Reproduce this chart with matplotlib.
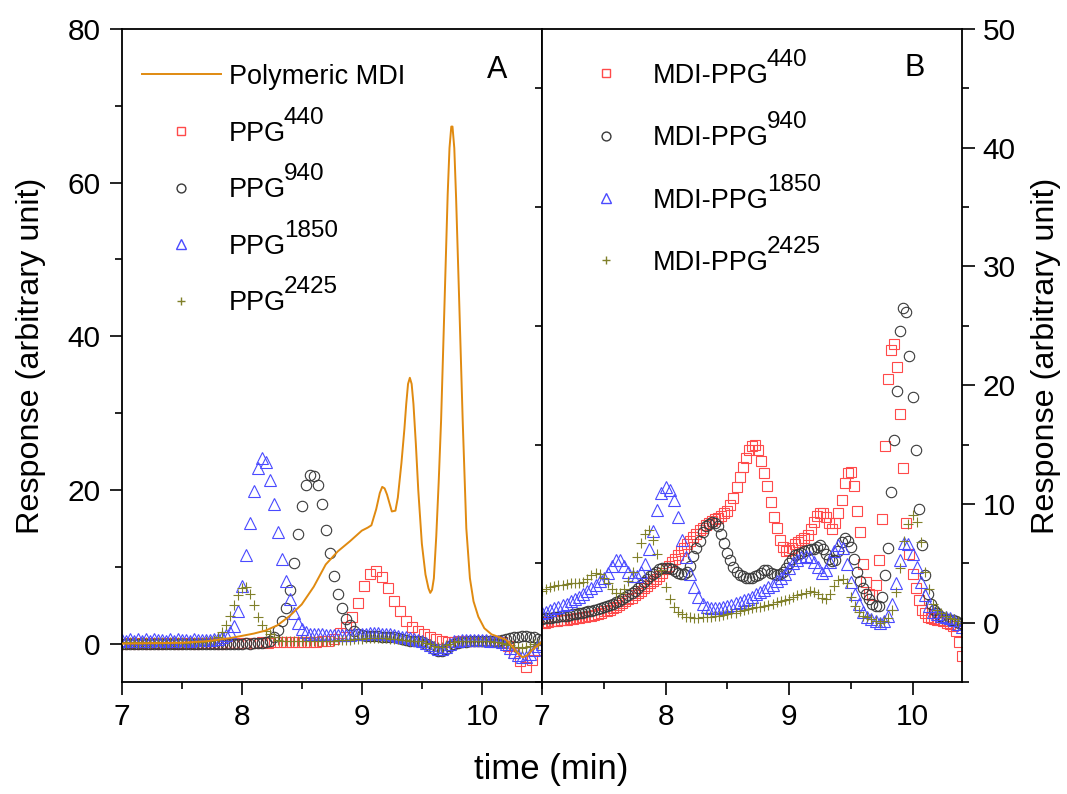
import numpy as np
import matplotlib
matplotlib.use("Agg")
import matplotlib.pyplot as plt
from matplotlib.ticker import MultipleLocator
from matplotlib.transforms import IdentityTransform

plt.rcParams['font.family'] = ['Liberation Sans', 'DejaVu Sans']

# ---- Panel A: polyols (PPG) and polymeric MDI
# polymeric MDI trace (time, response)
pmdi_t = [7.0, 7.5, 7.7, 7.8, 7.9, 8.0, 8.1, 8.2, 8.3, 8.4, 8.5, 8.6, 8.7, 8.8, 8.9,
          9.0, 9.05, 9.08, 9.12, 9.15, 9.17, 9.19, 9.21, 9.25, 9.28, 9.30, 9.33, 9.355,
          9.37, 9.385, 9.40, 9.415, 9.43, 9.45, 9.47, 9.50, 9.53, 9.555, 9.57, 9.585,
          9.60, 9.62, 9.64, 9.66, 9.69, 9.715, 9.73, 9.745, 9.755, 9.77, 9.785, 9.81,
          9.84, 9.87, 9.90, 9.93, 9.97, 10.02, 10.08, 10.15, 10.20, 10.25, 10.30,
          10.34, 10.38, 10.42, 10.47, 10.5]
pmdi_y = [0.0, 0.1, 0.3, 0.5, 0.7, 1.0, 1.3, 1.7, 2.4, 3.6, 5.1, 7.4, 10.3, 12.0, 13.3,
          14.7, 15.1, 15.4, 17.5, 19.6, 20.4, 20.2, 19.4, 17.2, 17.3, 19.0, 23.5, 28.0,
          31.2, 33.8, 34.6, 33.8, 31.2, 26.0, 20.0, 13.0, 9.0, 7.2, 6.6, 7.0,
          8.5, 14.0, 21.0, 29.0, 45.0, 58.5, 64.5, 67.3, 67.3, 64.5, 58.0, 45.0,
          29.0, 15.0, 8.5, 5.5, 3.5, 2.0, 1.2, 0.8, 0.5, -0.3, -1.3,
          -1.8, -1.5, -0.8, -0.2, 0.3]

# PPG440, sampled every 0.05 min from 7.02
ppg440 = [0.0, 0.1, 0.0, 0.1, 0.0, 0.1, 0.0, 0.1, 0.1, 0.0, 0.1, 0.1, 0.0, 0.1, 0.1,
          0.1, 0.0, 0.1, 0.1, 0.1, 0.1, 0.1, 0.1, 0.2, 0.1, 0.2,
          0.2, 0.2, 0.2, 0.2, 0.2, 0.2, 0.2, 0.3, 0.3, 0.6, 1.4, 2.2, 3.4, 5.3, 7.5,
          9.1, 9.5, 8.7, 7.2, 5.6, 4.2, 3.0, 2.1, 1.6, 1.2, 0.9, 0.6, 0.3, 0.2, 0.2,
          0.3, 0.3, 0.4, 0.4, 0.4, 0.4, 0.3, 0.2, -0.3, -1.2, -2.3, -3.0, -2.2, -0.8]

# PPG940 / PPG1850 / PPG2425, sampled every 2 s from 7.0 min
ppg940 = [0.0, -0.1, 0.0, -0.1, 0.0, -0.1, 0.0, 0.0, -0.1, 0.0, -0.1, 0.0, 0.0, -0.1,
          0.0, -0.1, 0.0, 0.0, -0.1, 0.0, 0.0, -0.1, 0.0, 0.0, 0.0, -0.1, 0.0, 0.0,
          0.0, 0.0, 0.0, 0.1, 0.0, 0.1, 0.1, 0.1, 0.2, 0.4,
          0.8, 1.8, 2.9, 4.6, 7.0, 10.5, 14.3, 17.9, 20.6, 21.9, 21.8, 20.6, 18.2,
          14.8, 11.8, 8.8, 6.5, 4.6, 3.2, 2.4, 1.7, 1.3, 1.1, 1.0, 1.0, 1.0, 1.0,
          0.9, 0.9, 0.8, 0.8, 0.7, 0.6, 0.5, 0.4, 0.3, 0.3, 0.2, 0.0, -0.3, -0.7,
          -1.0, -1.0, -0.7, -0.3, 0.0, 0.1,
          0.2, 0.2, 0.3, 0.3, 0.3, 0.3, 0.3, 0.3, 0.4, 0.4, 0.5, 0.6, 0.7, 0.8, 0.9,
          1.0, 1.0, 0.9, 0.8, 0.6, 0.5]
ppg1850 = [0.5, 0.4, 0.6, 0.4, 0.6, 0.4, 0.6, 0.4, 0.6, 0.5, 0.5, 0.4, 0.6, 0.4, 0.6,
           0.5, 0.5, 0.4, 0.6, 0.5, 0.5, 0.5, 0.5, 0.6,
           0.6, 0.8, 1.1, 1.5, 2.3, 4.2, 7.5, 11.5, 15.7, 19.8, 22.8, 24.2, 23.6, 21.3,
           18.2, 14.5, 11.0, 8.2, 5.8, 4.0, 2.7, 1.9, 1.5, 1.3, 1.2,
           1.2, 1.2, 1.1, 1.1, 1.1, 1.1, 1.1, 1.1, 1.1, 1.2, 1.2, 1.3, 1.3, 1.4, 1.4,
           1.4, 1.3, 1.3, 1.2, 1.1, 1.0, 0.9, 0.8, 0.7, 0.6, 0.5, 0.4, 0.1, -0.2,
           -0.5, -0.7, -0.7, -0.4, 0.0, 0.3, 0.4, 0.5, 0.5, 0.5, 0.5, 0.5, 0.5, 0.5,
           0.4, 0.4, 0.3, 0.2, -0.1, -0.6, -1.1, -1.5, -1.8, -1.7, -1.3, -0.8, -0.3, 0.0]
ppg2425 = [0.2, 0.1, 0.2, 0.2, 0.1, 0.2, 0.2, 0.1, 0.2, 0.2, 0.2, 0.1, 0.2, 0.2, 0.2,
           0.2, 0.1, 0.2, 0.2, 0.2, 0.2, 0.3, 0.3,
           0.5, 0.9, 1.5, 2.4, 3.6, 5.0, 6.3, 7.3, 7.4, 6.5, 5.0, 3.5, 2.4, 1.7, 1.2,
           0.8, 0.5,
           0.4, 0.4, 0.3, 0.3, 0.3, 0.3, 0.3, 0.3, 0.3, 0.3, 0.4, 0.4, 0.4, 0.4, 0.5,
           0.5, 0.5, 0.5, 0.6, 0.6, 0.6, 0.7, 0.7, 0.7, 0.7, 0.7, 0.7, 0.6, 0.6, 0.6,
           0.5, 0.5, 0.4, 0.4, 0.3, 0.3, 0.1, -0.1, -0.3, -0.4, -0.4, -0.2, 0.0, 0.2,
           0.3, 0.3, 0.3, 0.3, 0.3, 0.3, 0.3, 0.3, 0.3, 0.2, 0.2, 0.1, 0.0, -0.2, -0.4,
           -0.5, -0.6, -0.5, -0.3, -0.1, 0.0, 0.1]

# ---- Panel B: MDI-PPG prepolymers
# MDI-PPG440 and MDI-PPG940, sampled every 1.5 s from 7.0 min
mdi440 = [0.0, 0.0, 0.05, 0.1, 0.1, 0.15, 0.2, 0.2, 0.25, 0.3, 0.3, 0.35, 0.4, 0.45,
          0.5, 0.55, 0.6, 0.65, 0.75, 0.85, 0.95, 1.0, 1.1, 1.2, 1.35, 1.5, 1.65, 1.8,
          1.95, 2.1, 2.3, 2.5, 2.7, 2.9, 3.1, 3.3, 3.5, 3.7, 3.95, 4.2, 4.5, 4.8, 5.1,
          5.4, 5.7, 6.0, 6.3, 6.6, 6.9, 7.2, 7.5, 7.8, 8.0, 8.2, 8.4, 8.55, 8.7, 8.85,
          9.0, 9.2, 9.4, 9.9, 10.5, 11.4, 12.3, 13.1, 13.9, 14.5, 14.9, 15.0, 14.5,
          13.6, 12.6, 11.5, 10.2, 8.9, 8.0, 7.0, 6.4, 6.0, 6.1, 6.3, 6.6, 6.8, 7.0,
          7.1, 7.4, 7.9, 8.5, 9.0, 9.2, 9.2, 8.9, 8.4, 7.9, 8.4, 9.2, 10.3, 11.8, 12.6,
          12.7, 11.5, 9.4, 7.6, 4.9, 3.4, 2.4, 2.3, 3.2, 5.3, 8.7, 14.9, 20.5, 23.0,
          23.5, 21.5, 17.6, 13.0, 8.4, 5.8, 4.1, 2.9, 1.9, 1.1, 0.8, 0.5, 0.4, 0.3,
          0.2, 0.2, 0.1, 0.0, -0.1, -0.3, -0.7, -1.6, -2.8]
mdi940 = [0.3, 0.35, 0.4, 0.4, 0.45, 0.5, 0.55, 0.6, 0.6, 0.65, 0.7, 0.75, 0.8, 0.85,
          0.9, 0.95, 1.0, 1.1, 1.15, 1.25, 1.3, 1.4, 1.5, 1.6, 1.7, 1.85, 2.0, 2.15,
          2.3, 2.5, 2.7, 2.9, 3.15, 3.4, 3.65, 3.9, 4.1, 4.3, 4.5, 4.6, 4.6, 4.6, 4.5,
          4.35, 4.2, 4.1, 4.1, 4.3, 4.8, 5.6, 6.3, 6.9, 7.6, 8.1, 8.3, 8.5, 8.4, 8.1,
          7.5, 6.7, 5.9, 5.3, 4.7, 4.3, 4.0, 3.9, 3.8, 3.8, 3.8, 3.9, 4.0, 4.2, 4.4,
          4.4, 4.2, 4.1, 4.0, 4.1, 4.3, 4.6, 5.0, 5.4, 5.7, 5.8, 5.9, 6.0, 6.1, 6.2,
          6.2, 6.4, 6.5, 6.2, 5.8, 5.4, 5.2, 5.3, 6.0, 6.8, 7.1, 6.9, 6.4, 5.4, 4.3,
          3.5, 2.9, 2.4, 2.0, 1.6, 1.4, 1.4, 2.2, 4.0, 6.3, 11.0, 15.4, 19.5, 24.6,
          26.5, 26.2, 22.5, 19.0, 14.5, 9.6, 6.5, 4.0, 2.4, 1.6, 1.1, 0.8, 0.6, 0.4,
          0.3, 0.2, 0.2, 0.1, 0.0, -0.1]
# MDI-PPG1850 and MDI-PPG2425, sampled every 2 s from 7.0 min
mdi1850 = [0.8, 0.9, 1.05, 1.2, 1.3, 1.45, 1.6, 1.8, 2.0, 2.2, 2.45, 2.7, 2.95, 3.2,
           3.5, 3.8, 4.2, 4.8, 5.3, 5.3, 4.8, 4.3, 3.9, 3.9, 4.3, 4.9, 6.2, 7.7, 9.5,
           10.9, 11.4, 11.2, 10.3, 8.9, 7.0, 5.5, 4.1, 3.0, 2.2, 1.6, 1.3, 1.2, 1.2,
           1.25, 1.35, 1.4, 1.5, 1.65, 1.75, 1.9, 2.0, 2.2, 2.4, 2.55, 2.75, 3.0, 3.2,
           3.5, 3.75, 4.1, 4.6, 5.0, 5.3, 5.5, 5.6, 5.5, 5.1, 4.7, 4.2, 4.4, 5.1, 6.0,
           6.5, 6.3, 4.9, 3.4, 2.4, 1.6, 0.9, 0.5, 0.3, 0.1, 0.0, 0.1, 0.6, 1.6, 3.3,
           5.3, 6.7, 6.6, 5.8, 4.7, 3.4, 2.3, 1.4, 0.9, 0.7, 0.6, 0.5, 0.4, 0.2, -0.1,
           -0.4]
mdi2425 = [2.7, 2.85, 3.0, 3.1, 3.15, 3.2, 3.25, 3.3, 3.3, 3.35, 3.4, 3.7, 4.0, 4.2,
           4.1, 3.8, 3.3, 2.8, 2.5, 2.5, 2.8, 3.5, 4.3, 5.5, 6.7, 7.5, 7.8, 7.0, 5.8,
           4.4, 3.0, 2.0, 1.3, 0.9, 0.7, 0.5, 0.45, 0.4, 0.4, 0.45, 0.5, 0.5, 0.55,
           0.6, 0.65, 0.7, 0.8, 0.85, 0.95, 1.05, 1.15, 1.25, 1.3, 1.35, 1.4, 1.5, 1.6,
           1.7, 1.8, 1.9, 2.0, 2.15, 2.3, 2.4, 2.5, 2.7, 2.6, 2.4, 2.1, 2.0, 2.4, 3.1,
           3.6, 3.7, 3.3, 2.2, 1.4, 0.9, 0.6, 0.5, 0.3, 0.1, 0.0, 0.1, 0.4, 1.1, 2.6,
           4.6, 6.9, 8.3, 9.1, 8.5, 6.8, 4.3, 2.8, 1.6, 1.1, 0.8, 0.6, 0.4, 0.3, 0.1,
           0.0]

# legend names and their superscripts (molar mass of the polyol)
names_A = ["Polymeric MDI", "PPG", "PPG", "PPG", "PPG"]
sups_A = ["", "440", "940", "1850", "2425"]
names_B = ["MDI-PPG", "MDI-PPG", "MDI-PPG", "MDI-PPG"]
sups_B = ["440", "940", "1850", "2425"]

RED, BLACK, BLUE, GREEN, ORANGE = "#ff4a4a", "#3a3a3a", "#4a4aff", "#80802a", "#e08a10"


def tgrid(start, step, n):
    return start + step * np.arange(n)


def scatter(ax, x, y, marker, color, label, ms=7.5):
    ax.plot(x, y, linestyle="none", marker=marker, ms=ms, mfc="none", mec=color,
            mew=0.8, label=label)


W, H = 1067, 794
fig = plt.figure(figsize=(W / 100, H / 100), dpi=100)
axA = fig.add_axes([121.5 / W, 1 - 682 / H, (542 - 121.5) / W, (682 - 29) / H])
axB = fig.add_axes([542 / W, 1 - 682 / H, (962 - 542) / W, (682 - 29) / H])

# panel A
axA.plot(pmdi_t, pmdi_y, color=ORANGE, lw=1.4, label=names_A[0], zorder=5)
scatter(axA, tgrid(7.02, 0.05, len(ppg440)), ppg440, "s", RED, names_A[1], 7)
scatter(axA, tgrid(7.0, 1 / 30, len(ppg940)), ppg940, "o", BLACK, names_A[2])
scatter(axA, tgrid(7.0, 1 / 30, len(ppg1850)), ppg1850, "^", BLUE, names_A[3], 8.5)
scatter(axA, tgrid(7.0, 1 / 30, len(ppg2425)), ppg2425, "+", GREEN, names_A[4])

# panel B
scatter(axB, tgrid(7.0, 0.025, len(mdi440)), mdi440, "s", RED, names_B[0], 7)
scatter(axB, tgrid(7.0, 0.025, len(mdi940)), mdi940, "o", BLACK, names_B[1])
scatter(axB, tgrid(7.0, 1 / 30, len(mdi1850)), mdi1850, "^", BLUE, names_B[2], 8.5)
scatter(axB, tgrid(7.0, 1 / 30, len(mdi2425)), mdi2425, "+", GREEN, names_B[3])

axA.set_xlim(7, 10.5)
axA.set_ylim(-5, 80)
axB.set_xlim(7, 10.4)
axB.set_ylim(-5, 50)

for ax in (axA, axB):
    ax.xaxis.set_major_locator(MultipleLocator(1))
    ax.xaxis.set_minor_locator(MultipleLocator(0.5))
    for s in ax.spines.values():
        s.set_linewidth(1.3)
    ax.tick_params(which="both", direction="out", width=1.2, labelsize=21.5, top=False)
    ax.tick_params(which="major", length=9, pad=6)
    ax.tick_params(which="minor", length=5)

axA.yaxis.set_major_locator(MultipleLocator(20))
axA.yaxis.set_minor_locator(MultipleLocator(10))
axA.tick_params(axis="y", which="both", right=False)

axB.yaxis.set_major_locator(MultipleLocator(10))
axB.yaxis.set_minor_locator(MultipleLocator(5))
axB.yaxis.tick_right()
axB.tick_params(axis="y", which="major", left=False, right=True)
axB.tick_params(axis="y", which="minor", left=True, right=True)

ymid = 1 - 356 / H
fig.text(31 / W, ymid, "Response (arbitrary unit)", rotation=90, ha="center",
         va="center", fontsize=23.3)
fig.text(1046 / W, ymid, "Response (arbitrary unit)", rotation=90, ha="center",
         va="center", fontsize=23.3)
fig.text(551 / W, 1 - 770 / H, "time (min)", ha="center", va="center", fontsize=25)

axA.text(0.893, 0.937, "A", transform=axA.transAxes, ha="center", va="center", fontsize=22)
axB.text(0.888, 0.940, "B", transform=axB.transAxes, ha="center", va="center", fontsize=22)

leg_fs = 19.5
legA = axA.legend(loc="upper left", bbox_to_anchor=(0.049, 0.9465), frameon=False,
                  fontsize=leg_fs, handlelength=2.9, handletextpad=0.3,
                  labelspacing=1.13, borderpad=0, borderaxespad=0, markerscale=0.85)
legB = axB.legend(loc="upper left", bbox_to_anchor=(0.058, 0.948), frameon=False,
                  fontsize=leg_fs, handlelength=2.9, handletextpad=0.3,
                  labelspacing=1.34, borderpad=0, borderaxespad=0, markerscale=0.85)
for leg in (legA, legB):
    for h in leg.legend_handles:
        h.set_markeredgewidth(1.0)

# superscripts placed just after each legend label
fig.canvas.draw()
renderer = fig.canvas.get_renderer()
px = leg_fs * 100 / 72
for leg, sups in ((legA, sups_A), (legB, sups_B)):
    for txt, sup in zip(leg.get_texts(), sups):
        if not sup:
            continue
        bb = txt.get_window_extent(renderer)
        base = bb.y0 + 0.21 * px
        fig.text(bb.x1 - 2, base + 0.64 * px, sup, transform=IdentityTransform(),
                 ha="left", va="baseline", fontsize=17.5)

fig.savefig("out.png", dpi=100)
